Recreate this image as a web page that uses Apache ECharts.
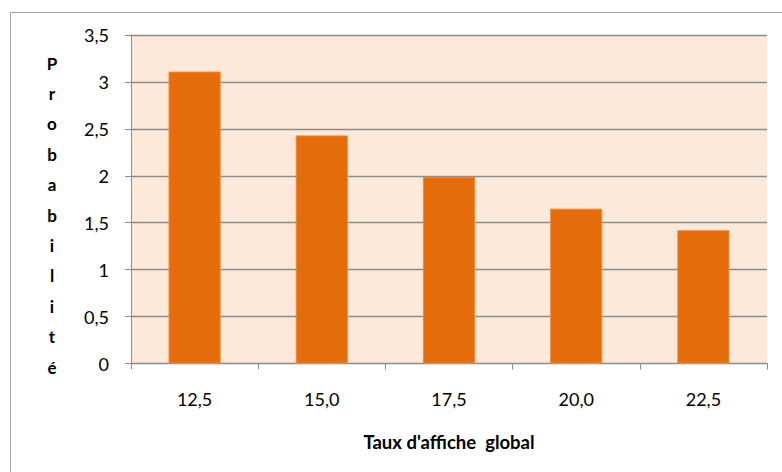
<!DOCTYPE html>
<html>
<head>
<meta charset="utf-8">
<script src="https://cdn.jsdelivr.net/npm/echarts@6/dist/echarts.min.js"></script>
<style>
  html, body { margin: 0; padding: 0; background: #ffffff; }
  #chart { width: 782px; height: 472px; }
</style>
</head>
<body>
<div id="chart"></div>
<script>
// Probability by overall display rate
const categories = ['12,5', '15,0', '17,5', '20,0', '22,5'];
const probabilities = [3.11, 2.43, 1.99, 1.65, 1.42];
const yTicks = { min: 0, max: 3.5, interval: 0.5 };
const xTitle = "Taux d'affiche  global";
const yTitle = 'Probabilité';

const FONT = 'Lato, "Liberation Sans", sans-serif';
const chart = echarts.init(document.getElementById('chart'), null, { renderer: 'svg' });

chart.setOption({
  animation: false,
  backgroundColor: '#ffffff',
  textStyle: { fontFamily: FONT },
  grid: { left: 131, right: 15, top: 35, bottom: 108.5, show: true, backgroundColor: '#FDE9D9', borderWidth: 0 },
  graphic: [
    {
      type: 'rect',
      shape: { x: 10.5, y: 12.5, width: 800, height: 500 },
      style: { fill: 'none', stroke: '#a6a6a6', lineWidth: 1 },
      silent: true
    },
    {
      type: 'text',
      x: 52, y: 215,
      style: {
        text: yTitle.split('').join('\n'),
        font: 'bold 17px ' + FONT,
        fill: '#000000',
        textAlign: 'center',
        textVerticalAlign: 'middle',
        lineHeight: 30.4
      }
    }
  ],
  xAxis: {
    type: 'category',
    data: categories,
    boundaryGap: true,
    name: xTitle,
    nameLocation: 'middle',
    nameGap: 69,
    nameTextStyle: { fontSize: 18.5, fontWeight: 'bold', color: '#000000', fontFamily: FONT },
    axisLine: { lineStyle: { color: '#8c8c8c', width: 1 } },
    axisTick: { show: true, length: 6, lineStyle: { color: '#8c8c8c' } },
    axisLabel: { fontSize: 18, color: '#000000', margin: 26, fontFamily: FONT }
  },
  yAxis: {
    type: 'value',
    min: yTicks.min,
    max: yTicks.max,
    interval: yTicks.interval,
    axisLine: { show: true, lineStyle: { color: '#8c8c8c', width: 1 } },
    axisTick: { show: true, length: 6, lineStyle: { color: '#8c8c8c' } },
    axisLabel: {
      fontSize: 18, color: '#000000', margin: 22, fontFamily: FONT,
      formatter: v => String(v).replace('.', ',')
    },
    splitLine: { show: true, lineStyle: { color: '#8c8c8c', width: 1.3 } }
  },
  series: [{
    type: 'bar',
    data: probabilities,
    barWidth: '41%',
    itemStyle: { color: '#E46C0A', borderColor: '#F08A3A', borderWidth: 1 }
  }]
});
</script>
</body>
</html>
